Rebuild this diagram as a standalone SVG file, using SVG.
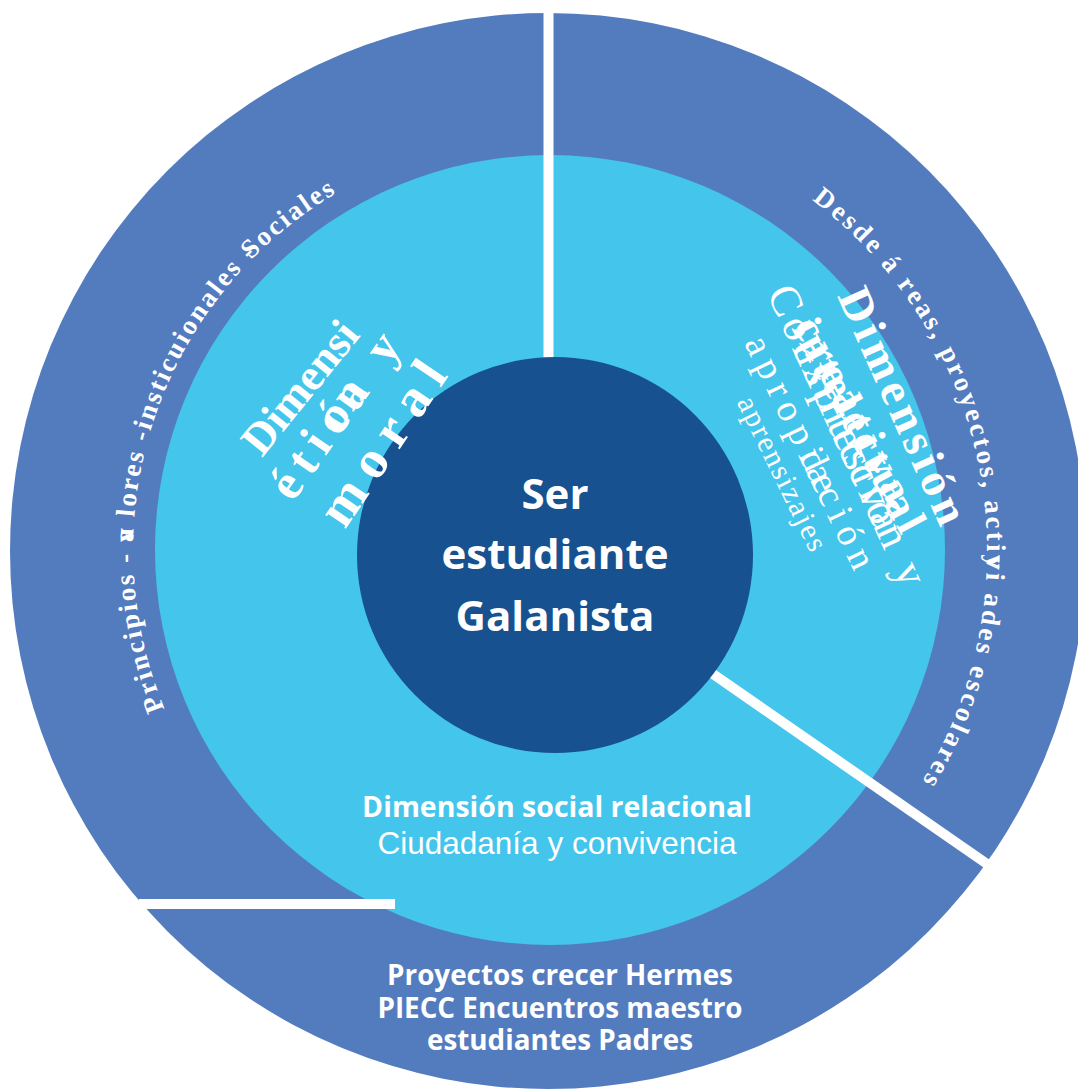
<svg xmlns="http://www.w3.org/2000/svg" width="1078" height="1089" viewBox="0 0 1078 1089">
<style>
.ring{font-family:"Liberation Serif","DejaVu Serif",serif;font-weight:bold;font-size:27px;fill:#fff}
.ser{font-family:"Liberation Serif","DejaVu Serif",serif;fill:#fff}
.b{font-weight:bold}
.sans{font-family:"Open Sans","Liberation Sans",sans-serif;fill:#fff;text-anchor:middle;font-weight:bold}
.ar{font-family:"Liberation Sans",Arial,sans-serif;fill:#fff;text-anchor:middle}
</style>
<defs>
<path id="pL" d="M164.6,708.8 A415,415 0 0 1 372.6,173.9"/>
<path id="pR" d="M812,200 A440,440 0 0 1 910,800"/>
</defs>
<rect width="1078" height="1089" fill="#fff"/>
<g id="outer-ring"><circle cx="548" cy="551" r="538" fill="#537CBF"/></g>
<g id="inner-ring"><circle cx="550" cy="550" r="395" fill="#44C5EC"/></g>
<g id="connectors" stroke="#fff" stroke-width="10" fill="none">
<line x1="548.5" y1="8" x2="548.5" y2="370"/>
<line x1="700" y1="665" x2="990" y2="866"/>
<line x1="139" y1="904" x2="395" y2="904"/>
</g>
<g id="center">
<circle cx="555" cy="555" r="198" fill="#175190"/>
<text class="sans" font-size="42"><tspan x="555" y="509">Ser</tspan><tspan x="555" y="569">estudiante</tspan><tspan x="555" y="631">Galanista</tspan></text>
</g>
<g id="ring-left-label">
<text class="ring" letter-spacing="2.4"><textPath href="#pL">Principios - v<tspan dx="-16">a</tspan> lores -insticuionales -<tspan dx="-10">S</tspan>ociales</textPath></text>
</g>
<g id="ring-right-label">
<text class="ring" letter-spacing="3"><textPath href="#pR">Desde á reas, proyectos, actiy<tspan dx="-15">v</tspan>i ades escolares</textPath></text>
</g>
<g id="dim-etica" class="ser b">
<text transform="translate(262,458) rotate(-51)" font-size="45">Dimensi</text>
<text transform="translate(293,503) rotate(-55)" font-size="50" letter-spacing="9">ética y</text>
<text transform="translate(293,503) rotate(-55)" x="84" y="-3" font-size="46" letter-spacing="1">ón</text>
<text transform="translate(345,530) rotate(-56)" font-size="54" letter-spacing="12">moral</text>
</g>
<g id="dim-intelectual" class="ser">
<text class="b" transform="translate(837,296) rotate(65.9)" font-size="47" letter-spacing="5">Dimensión</text>
<text class="b" transform="translate(791,328) rotate(62)" font-size="44" letter-spacing="4">intelectual</text>
<text class="b" transform="translate(793,326) rotate(62)" font-size="44" letter-spacing="7.5">creativa</text>
<text transform="translate(766.5,293) rotate(65.4)" font-size="44" letter-spacing="4.5">Construcción y</text>
<text transform="translate(766.5,293) rotate(65.4)" x="60" font-size="44" letter-spacing="4.5">expresiva</text>
<text transform="translate(744,343) rotate(64.3)" font-size="38" letter-spacing="7.5">apropiación</text>
<text transform="translate(744,343) rotate(64.3)" x="126" font-size="38" letter-spacing="7">de</text>
<text transform="translate(736.5,402) rotate(63.9)" font-size="30" letter-spacing="2">aprensizajes</text>
</g>
<g id="dim-social">
<text class="sans" x="557" y="817" font-size="28.5">Dimensión social relacional</text>
<text class="ar" x="557" y="854" font-size="31.5">Ciudadanía y convivencia</text>
</g>
<g id="proyectos">
<text class="sans" font-size="27.8"><tspan x="560" y="985">Proyectos crecer Hermes</tspan><tspan x="560" y="1018">PIECC Encuentros maestro</tspan><tspan x="560" y="1050">estudiantes Padres</tspan></text>
</g>
</svg>
